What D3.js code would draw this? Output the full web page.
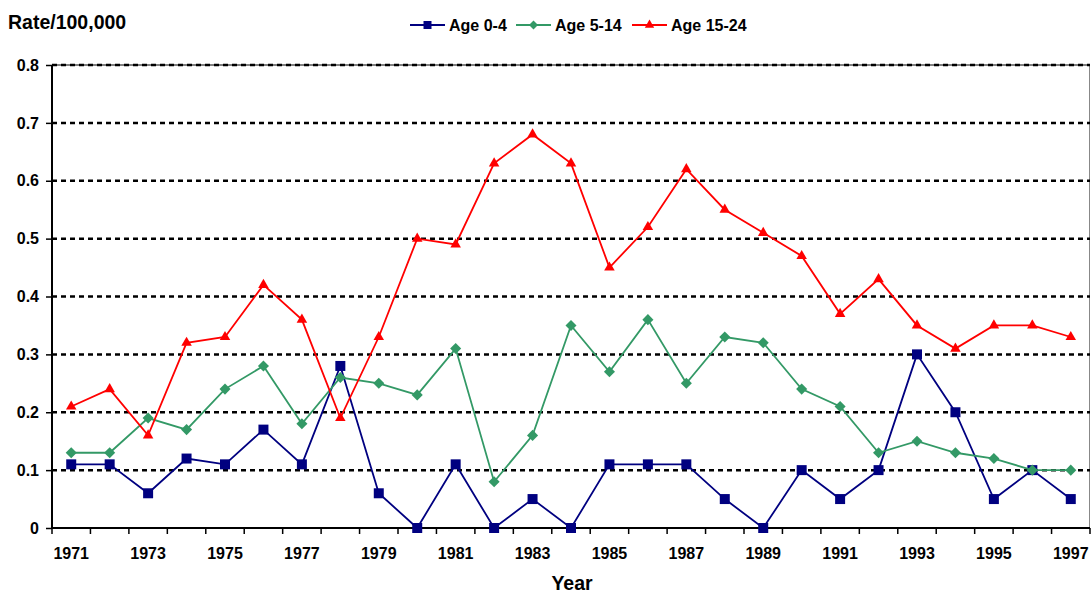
<!DOCTYPE html>
<html>
<head>
<meta charset="utf-8">
<script src="https://cdn.jsdelivr.net/npm/d3@7"></script>
<style>
  body { margin: 0; background: #fff; }
  svg { font-family: "Liberation Sans", Arial, sans-serif; font-weight: bold; }
</style>
</head>
<body>
<div id="chart"></div>
<script>
// data
const years = d3.range(1971, 1998);
const age0to4 = [0.11, 0.11, 0.06, 0.12, 0.11, 0.17, 0.11, 0.28, 0.06, 0, 0.11, 0, 0.05, 0, 0.11, 0.11, 0.11, 0.05, 0, 0.10, 0.05, 0.10, 0.30, 0.20, 0.05, 0.10, 0.05];
const age5to14 = [0.13, 0.13, 0.19, 0.17, 0.24, 0.28, 0.18, 0.26, 0.25, 0.23, 0.31, 0.08, 0.16, 0.35, 0.27, 0.36, 0.25, 0.33, 0.32, 0.24, 0.21, 0.13, 0.15, 0.13, 0.12, 0.10, 0.10];
const age15to24 = [0.21, 0.24, 0.16, 0.32, 0.33, 0.42, 0.36, 0.19, 0.33, 0.50, 0.49, 0.63, 0.68, 0.63, 0.45, 0.52, 0.62, 0.55, 0.51, 0.47, 0.37, 0.43, 0.35, 0.31, 0.35, 0.35, 0.33];
const yTicks = [0, 0.1, 0.2, 0.3, 0.4, 0.5, 0.6, 0.7, 0.8];

const series = [
  {name: 'Age 0-4', values: age0to4, color: '#000080', symbol: d3.symbolSquare, size: 100, legendSize: 64},
  {name: 'Age 5-14', values: age5to14, color: '#339966', symbol: d3.symbolDiamond2, size: 78, legendSize: 52},
  {name: 'Age 15-24', values: age15to24, color: '#ff0000', symbol: d3.symbolTriangle, size: 48, legendSize: 38}
];

const W = 1091, H = 593;
const margin = {top: 65, right: 1, bottom: 65, left: 52};
const width = W - margin.left - margin.right;
const height = H - margin.top - margin.bottom;

const svg = d3.select('#chart').append('svg')
  .attr('width', W)
  .attr('height', H);

const g = svg.append('g')
  .attr('transform', 'translate(' + margin.left + ',' + margin.top + ')');

const x = d3.scaleBand().domain(years).range([0, width]);
const y = d3.scaleLinear().domain([0, 0.8]).range([height, 0]);
const cx = d => x(d) + x.bandwidth() / 2;

// right border
g.append('line')
  .attr('x1', width - 0.5).attr('x2', width - 0.5)
  .attr('y1', 0).attr('y2', height)
  .attr('stroke', '#888').attr('stroke-width', 1);

// top solid line
g.append('line')
  .attr('x1', 0).attr('x2', width)
  .attr('y1', 0).attr('y2', 0)
  .attr('stroke', '#000').attr('stroke-width', 1);

// dotted gridlines
g.selectAll('.grid')
  .data(yTicks.filter(v => v > 0))
  .enter().append('line')
  .attr('class', 'grid')
  .attr('x1', 0).attr('x2', width)
  .attr('y1', d => y(d)).attr('y2', d => y(d))
  .attr('stroke', '#000')
  .attr('stroke-width', 2.5)
  .attr('stroke-dasharray', '5,4');

// y axis
const yAxis = g.append('g')
  .call(d3.axisLeft(y).tickValues(yTicks).tickSize(6).tickPadding(7)
    .tickFormat(d => d === 0 ? '0' : d3.format('.1f')(d)));
yAxis.select('.domain').attr('stroke-width', 2).attr('d', 'M0,0V' + height);
yAxis.selectAll('.tick line').attr('stroke-width', 1.5);
yAxis.selectAll('text').attr('font-size', 16).attr('font-weight', 'bold').attr('fill', '#000')
  .attr('font-family', '"Liberation Sans", Arial, sans-serif');

// x axis, ticks at band boundaries
const xAxisG = g.append('g').attr('transform', 'translate(0,' + height + ')');
xAxisG.append('line')
  .attr('x1', 0).attr('x2', width)
  .attr('stroke', '#000').attr('stroke-width', 2);
xAxisG.selectAll('.xtick')
  .data(years.concat([null]))
  .enter().append('line')
  .attr('class', 'xtick')
  .attr('x1', (d, i) => i * x.step()).attr('x2', (d, i) => i * x.step())
  .attr('y1', 0).attr('y2', 6)
  .attr('stroke', '#000').attr('stroke-width', 1.5);
xAxisG.selectAll('.xlabel')
  .data(years.filter((d, i) => i % 2 === 0))
  .enter().append('text')
  .attr('x', d => cx(d))
  .attr('y', 31)
  .attr('text-anchor', 'middle')
  .attr('font-size', 16)
  .text(d => d);

// lines and markers
const line = d3.line()
  .x((d, i) => cx(years[i]))
  .y(d => y(d));

series.forEach(s => {
  g.append('path')
    .datum(s.values)
    .attr('fill', 'none')
    .attr('stroke', s.color)
    .attr('stroke-width', 1.8)
    .attr('d', line);
  g.selectAll(null)
    .data(s.values)
    .enter().append('path')
    .attr('transform', (d, i) => 'translate(' + cx(years[i]) + ',' + y(d) + ')')
    .attr('d', d3.symbol().type(s.symbol).size(s.size))
    .attr('fill', s.color);
});

// titles
svg.append('text')
  .attr('x', 8).attr('y', 29)
  .attr('font-size', 19.5)
  .text('Rate/100,000');
svg.append('text')
  .attr('x', 572).attr('y', 590)
  .attr('text-anchor', 'middle')
  .attr('font-size', 19.5)
  .text('Year');

// legend
const legendX = [410, 516, 632];
const legend = svg.append('g');
series.forEach((s, i) => {
  const lg = legend.append('g').attr('transform', 'translate(' + legendX[i] + ',25)');
  lg.append('line').attr('x1', 0).attr('x2', 35)
    .attr('stroke', s.color).attr('stroke-width', 1.8);
  lg.append('path')
    .attr('transform', 'translate(17.5,0)')
    .attr('d', d3.symbol().type(s.symbol).size(s.legendSize))
    .attr('fill', s.color);
  lg.append('text')
    .attr('x', 39).attr('y', 6)
    .attr('font-size', 16)
    .text(s.name);
});
</script>
</body>
</html>
